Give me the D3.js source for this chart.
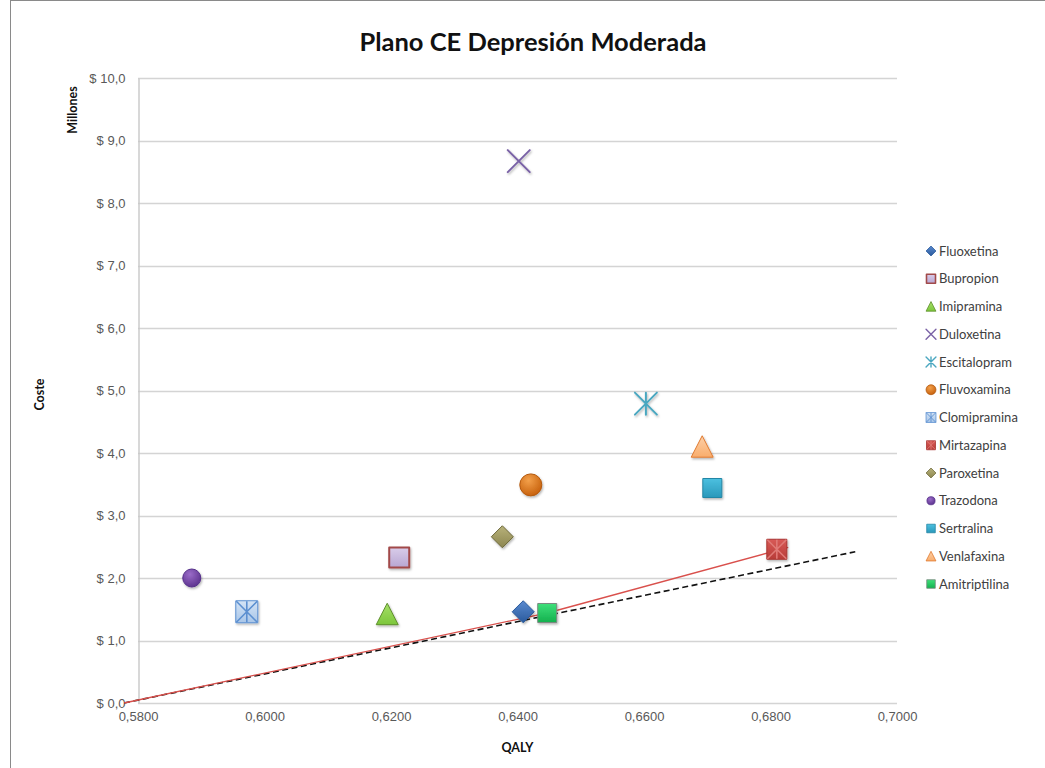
<!DOCTYPE html>
<html>
<head>
<meta charset="utf-8">
<script src="https://cdn.jsdelivr.net/npm/d3@7"></script>
<style>
  html, body { margin: 0; padding: 0; background: #fff; }
  svg { display: block; font-family: Lato, "Open Sans", "Liberation Sans", sans-serif; }
</style>
</head>
<body>
<svg id="chart" width="1045" height="768"></svg>
<script>
// Cost-effectiveness plane: QALY vs cost (millions) per antidepressant
const drugs = ["Fluoxetina", "Bupropion", "Imipramina", "Duloxetina", "Escitalopram", "Fluvoxamina",
  "Clomipramina", "Mirtazapina", "Paroxetina", "Trazodona", "Sertralina", "Venlafaxina", "Amitriptilina"];
const qaly = [0.6409, 0.6213, 0.6194, 0.6402, 0.6603, 0.6421, 0.5972, 0.6810, 0.6376, 0.5885, 0.6708, 0.6692, 0.6447];
const cost = [1.46, 2.33, 1.42, 8.67, 4.79, 3.49, 1.46, 2.46, 2.66, 2.00, 3.44, 4.10, 1.44];

// Efficiency frontier (solid) and willingness-to-pay threshold (dashed)
const frontierQaly = [0.5778, 0.6447, 0.6828];
const frontierCost = [0.0, 1.44, 2.49];
const thresholdQaly = [0.5778, 0.6934];
const thresholdCost = [0.0, 2.42];

const xTicks = [0.58, 0.60, 0.62, 0.64, 0.66, 0.68, 0.70];
const yTicks = [0, 1, 2, 3, 4, 5, 6, 7, 8, 9, 10];

// marker appearance per drug
const style = {
  "Fluoxetina":    { shape: "diamond",  light: "#5a8ad0", dark: "#2a5a9c", stroke: "#2a5a9c", size: 11 },
  "Bupropion":     { shape: "square",   light: "#d9cdea", dark: "#b8a6d2", stroke: "#a24a4a", size: 10, sw: 2 },
  "Imipramina":    { shape: "triangle", light: "#a6e06a", dark: "#7cc63a", stroke: "#5e8f2c", size: 11 },
  "Duloxetina":    { shape: "x",        stroke: "#7a62a6", size: 11 },
  "Escitalopram":  { shape: "asterisk", stroke: "#4aa7c0", size: 11 },
  "Fluvoxamina":   { shape: "circle",   light: "#f3a04a", dark: "#c8620e", stroke: "#b45a10", size: 11 },
  "Clomipramina":  { shape: "squareStar", light: "#d4e4f6", dark: "#a9c6e8", stroke: "#5b8fd0", size: 11 },
  "Mirtazapina":   { shape: "squareStar", light: "#d85a56", dark: "#b83c38", stroke: "#a83532", size: 10, star: "#e07a76" },
  "Paroxetina":    { shape: "diamond",  light: "#b8b27a", dark: "#8c8650", stroke: "#6e6a3c", size: 11 },
  "Trazodona":     { shape: "circle",   light: "#9a6cc8", dark: "#5e3490", stroke: "#55308a", size: 9 },
  "Sertralina":    { shape: "square",   light: "#4cc0e0", dark: "#2a98ba", stroke: "#2486a6", size: 9.5 },
  "Venlafaxina":   { shape: "triangle", light: "#fdd0a8", dark: "#f9ad6c", stroke: "#e07a30", size: 11 },
  "Amitriptilina": { shape: "square",   light: "#3ee07a", dark: "#14b04e", stroke: "#7a8a80", size: 9.5 }
};

const W = 1045, H = 768;
const margin = { left: 138, top: 78, right: 148, bottom: 65 };
const plotW = W - margin.left - margin.right;   // 759
const plotH = H - margin.top - margin.bottom;   // 625

const svg = d3.select("#chart");
const defs = svg.append("defs");

const loc = d3.formatLocale({ decimal: ",", thousands: ".", grouping: [3], currency: ["$ ", ""] });
const fmtY = loc.format("$.1f");
const fmtX = loc.format(".4f");

const x = d3.scaleLinear().domain([0.58, 0.70]).range([margin.left, margin.left + plotW]);
const y = d3.scaleLinear().domain([0, 10]).range([margin.top + plotH, margin.top]);

// outer chart frame
svg.append("rect").attr("x", 10.5).attr("y", 0.5).attr("width", W + 20).attr("height", H + 20)
  .attr("fill", "none").attr("stroke", "#8a8a8a").attr("stroke-width", 1);

// gradients per drug
drugs.forEach((d, i) => {
  const s = style[d];
  if (!s.light) return;
  const g = s.shape === "circle"
    ? defs.append("radialGradient").attr("id", "g" + i).attr("cx", "40%").attr("cy", "30%").attr("r", "70%")
    : defs.append("linearGradient").attr("id", "g" + i).attr("x1", 0).attr("y1", 0).attr("x2", 0).attr("y2", 1);
  g.append("stop").attr("offset", "0%").attr("stop-color", s.light);
  g.append("stop").attr("offset", "100%").attr("stop-color", s.dark);
});
const shadow = defs.append("filter").attr("id", "shadow").attr("x", "-50%").attr("y", "-50%").attr("width", "200%").attr("height", "200%");
shadow.append("feDropShadow").attr("dx", 1).attr("dy", 1.5).attr("stdDeviation", 1.2)
  .attr("flood-color", "#000").attr("flood-opacity", 0.3);

// horizontal gridlines
const gridG = svg.append("g");
gridG.selectAll("line").data(yTicks).join("line")
  .attr("x1", margin.left).attr("x2", margin.left + plotW)
  .attr("y1", d => Math.round(y(d)) + 0.5).attr("y2", d => Math.round(y(d)) + 0.5)
  .attr("stroke", "#d4d4d4").attr("stroke-width", 1.6);

// y axis
const yAxis = d3.axisLeft(y).tickValues(yTicks).tickFormat(fmtY).tickSize(0).tickPadding(13);
const yG = svg.append("g").attr("transform", `translate(${margin.left + 0.5},0)`).call(yAxis);
yG.select(".domain").attr("stroke", "#c8c8c8").attr("stroke-width", 1.4);
yG.selectAll("text").attr("fill", "#595959").style("font-size", "13px");

// x axis
const xAxis = d3.axisBottom(x).tickValues(xTicks).tickFormat(fmtX).tickSize(0).tickPadding(9);
const xG = svg.append("g").attr("transform", `translate(0,${margin.top + plotH})`).call(xAxis);
xG.select(".domain").remove();
xG.selectAll("text").attr("fill", "#595959").style("font-size", "13px");

// reference lines
const line = d3.line().x(p => x(p[0])).y(p => y(p[1]));
svg.append("path").datum(thresholdQaly.map((q, i) => [q, thresholdCost[i]]))
  .attr("d", line).attr("fill", "none").attr("stroke", "#111").attr("stroke-width", 1.6)
  .attr("stroke-dasharray", "6,3.5");
svg.append("path").datum(frontierQaly.map((q, i) => [q, frontierCost[i]]))
  .attr("d", line).attr("fill", "none").attr("stroke", "#d9504c").attr("stroke-width", 1.3);

// marker path builder
function shapePath(shape, r) {
  const p = d3.path();
  switch (shape) {
    case "diamond":
      p.moveTo(0, -r); p.lineTo(r, 0); p.lineTo(0, r); p.lineTo(-r, 0); p.closePath(); break;
    case "square": case "squareStar":
      p.rect(-r, -r, 2 * r, 2 * r); break;
    case "triangle":
      p.moveTo(0, -r); p.lineTo(r, r * 0.95); p.lineTo(-r, r * 0.95); p.closePath(); break;
    case "circle":
      p.arc(0, 0, r, 0, 2 * Math.PI); break;
  }
  return p.toString();
}
function starPath(r, vertical) {
  const p = d3.path();
  p.moveTo(-r, -r); p.lineTo(r, r);
  p.moveTo(r, -r); p.lineTo(-r, r);
  if (vertical) { p.moveTo(0, -r); p.lineTo(0, r); }
  return p.toString();
}

function drawMarker(g, d, i, scale) {
  const s = style[d];
  const r = s.size * scale;
  if (s.shape === "x" || s.shape === "asterisk") {
    g.append("path").attr("d", starPath(r, s.shape === "asterisk"))
      .attr("fill", "none").attr("stroke", s.stroke).attr("stroke-width", scale < 1 ? 1.4 : 2)
      .attr("stroke-linecap", "round");
    return;
  }
  g.append("path").attr("d", shapePath(s.shape, r))
    .attr("fill", `url(#g${i})`).attr("stroke", s.stroke).attr("stroke-width", (s.sw || 1) * (scale < 1 ? 0.8 : 1))
    .attr("stroke-linejoin", "round");
  if (s.shape === "squareStar") {
    g.append("path").attr("d", starPath(r * 0.95, true))
      .attr("fill", "none").attr("stroke", s.star || s.stroke).attr("stroke-width", scale < 1 ? 0.9 : 1.6);
  }
}

// data markers
const pts = svg.append("g");
drugs.forEach((d, i) => {
  const g = pts.append("g").attr("transform", `translate(${x(qaly[i])},${y(cost[i])})`)
    .attr("filter", "url(#shadow)");
  drawMarker(g, d, i, 1);
});

// legend
const leg = svg.append("g").attr("transform", "translate(931,251)");
drugs.forEach((d, i) => {
  const row = leg.append("g").attr("transform", `translate(0,${i * 27.75})`);
  drawMarker(row.append("g"), d, i, 0.45);
  row.append("text").attr("x", 8).attr("y", 0).attr("dy", "0.35em")
    .attr("fill", "#404040").style("font-size", "13px").text(d);
});

// titles
svg.append("text").attr("x", 533).attr("y", 51).attr("text-anchor", "middle")
  .style("font-size", "25.5px").style("font-weight", "bold").attr("fill", "#111")
  .text("Plano CE Depresión Moderada");
svg.append("text").attr("x", margin.left + plotW / 2).attr("y", 752).attr("text-anchor", "middle")
  .style("font-size", "12.5px").style("font-weight", "bold").attr("fill", "#111").text("QALY");
svg.append("text").attr("transform", `translate(44,${margin.top + plotH / 2 + 4}) rotate(-90)`)
  .attr("text-anchor", "middle").style("font-size", "12.5px").style("font-weight", "bold")
  .attr("fill", "#111").text("Coste");
svg.append("text").attr("transform", "translate(77,110) rotate(-90)")
  .attr("text-anchor", "middle").style("font-size", "12.5px").style("font-weight", "bold")
  .attr("fill", "#111").text("Millones");
</script>
</body>
</html>
